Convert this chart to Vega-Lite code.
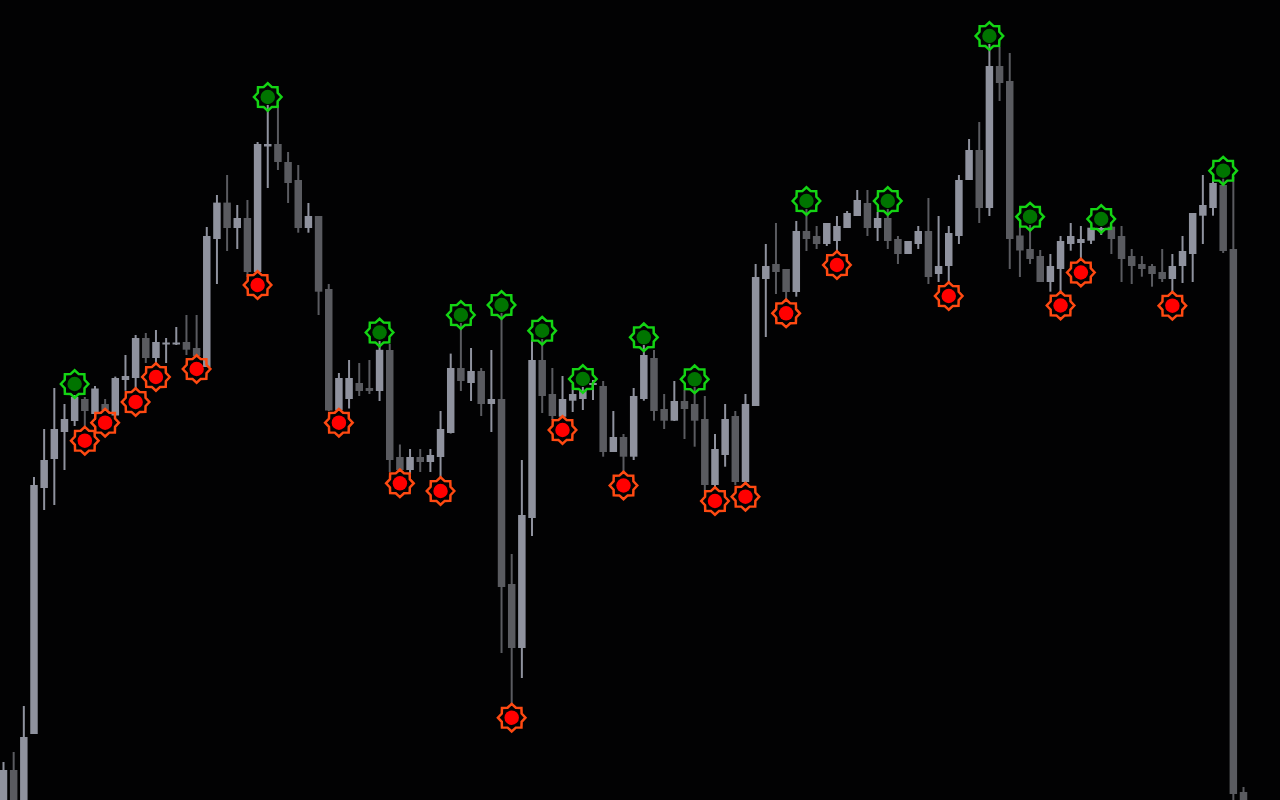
{
  "$schema": "https://vega.github.io/schema/vega-lite/v6.json",
  "autosize": {"type": "fit", "contains": "padding"},
  "width": 1280,
  "height": 800,
  "padding": 0,
  "background": "#020203",
  "config": {"view": {"stroke": null}},
  "datasets": {
    "candles": [
      {"i":0,"open":-15,"high":38,"low":-15,"close":30},
      {"i":1,"open":30,"high":48,"low":-15,"close":-15},
      {"i":2,"open":-15,"high":94,"low":-15,"close":63},
      {"i":3,"open":66,"high":323,"low":66,"close":315},
      {"i":4,"open":312,"high":371,"low":290,"close":340},
      {"i":5,"open":341,"high":412,"low":295,"close":371},
      {"i":6,"open":368,"high":396,"low":330,"close":381},
      {"i":7,"open":379,"high":405,"low":374,"close":403},
      {"i":8,"open":401,"high":403,"low":371,"close":389},
      {"i":9,"open":386,"high":414,"low":380,"close":411.5},
      {"i":10,"open":396,"high":401,"low":389,"close":390},
      {"i":11,"open":384.5,"high":423.4,"low":384.5,"close":422},
      {"i":12,"open":420,"high":445,"low":409.3,"close":424},
      {"i":13,"open":422,"high":465,"low":410,"close":462},
      {"i":14,"open":462,"high":467,"low":437,"close":442},
      {"i":15,"open":442,"high":470,"low":435,"close":458},
      {"i":16,"open":455.5,"high":462,"low":437,"close":457.5},
      {"i":17,"open":455.5,"high":473,"low":455,"close":457.5},
      {"i":18,"open":458,"high":485,"low":445,"close":450.3},
      {"i":19,"open":452,"high":485,"low":443,"close":444},
      {"i":20,"open":433,"high":573,"low":433,"close":564},
      {"i":21,"open":561,"high":605,"low":516,"close":597.4},
      {"i":22,"open":597.4,"high":625,"low":549,"close":572},
      {"i":23,"open":572,"high":595,"low":551,"close":582},
      {"i":24,"open":582,"high":600,"low":523,"close":528},
      {"i":25,"open":528,"high":658,"low":527,"close":656},
      {"i":26,"open":653.5,"high":695,"low":612,"close":656},
      {"i":27,"open":656,"high":695,"low":630,"close":638},
      {"i":28,"open":638,"high":648,"low":597,"close":617},
      {"i":29,"open":620,"high":635,"low":567.3,"close":572},
      {"i":30,"open":572,"high":597,"low":567.3,"close":584},
      {"i":31,"open":584,"high":584,"low":485,"close":508.3},
      {"i":32,"open":511,"high":516,"low":389,"close":389.5},
      {"i":33,"open":390,"high":427,"low":389,"close":422},
      {"i":34,"open":401,"high":440,"low":391.5,"close":422},
      {"i":35,"open":417,"high":437,"low":404,"close":409},
      {"i":36,"open":412,"high":440,"low":406,"close":409},
      {"i":37,"open":409,"high":459,"low":399,"close":450.2},
      {"i":38,"open":450,"high":456,"low":328,"close":340},
      {"i":39,"open":343,"high":355.5,"low":328,"close":330},
      {"i":40,"open":330,"high":351,"low":326,"close":343},
      {"i":41,"open":343,"high":351,"low":328,"close":338},
      {"i":42,"open":338,"high":351,"low":328,"close":345},
      {"i":43,"open":343,"high":389,"low":321,"close":371},
      {"i":44,"open":367,"high":446.4,"low":366.5,"close":432},
      {"i":45,"open":432,"high":477,"low":409,"close":419},
      {"i":46,"open":417,"high":452,"low":399,"close":429},
      {"i":47,"open":429,"high":432,"low":384,"close":396},
      {"i":48,"open":396,"high":450,"low":368,"close":401},
      {"i":49,"open":401,"high":487,"low":147,"close":213},
      {"i":50,"open":216,"high":246,"low":94,"close":152},
      {"i":51,"open":152,"high":340,"low":122,"close":285},
      {"i":52,"open":282,"high":460,"low":264,"close":440},
      {"i":53,"open":440,"high":461,"low":387,"close":404},
      {"i":54,"open":406,"high":432,"low":380,"close":384},
      {"i":55,"open":383.3,"high":424,"low":382,"close":401},
      {"i":56,"open":399.3,"high":416,"low":388,"close":406},
      {"i":57,"open":401,"high":413,"low":390,"close":410},
      {"i":58,"open":415,"high":420,"low":400,"close":417},
      {"i":59,"open":414,"high":419,"low":343.3,"close":348},
      {"i":60,"open":348,"high":389,"low":348,"close":363},
      {"i":61,"open":363,"high":366,"low":326,"close":343.3},
      {"i":62,"open":343.3,"high":412,"low":340,"close":404},
      {"i":63,"open":401,"high":455,"low":399.3,"close":445},
      {"i":64,"open":442,"high":450,"low":379.3,"close":389},
      {"i":65,"open":391,"high":406,"low":371,"close":379.3},
      {"i":66,"open":379.3,"high":419,"low":379,"close":399},
      {"i":67,"open":399,"high":410,"low":361,"close":391},
      {"i":68,"open":396,"high":413,"low":353.3,"close":379.3},
      {"i":69,"open":381,"high":404,"low":307.3,"close":315},
      {"i":70,"open":315,"high":366,"low":311,"close":351},
      {"i":71,"open":345,"high":396,"low":333.3,"close":381},
      {"i":72,"open":384,"high":389,"low":315,"close":318},
      {"i":73,"open":318,"high":406,"low":315,"close":396},
      {"i":74,"open":394,"high":536,"low":394,"close":523},
      {"i":75,"open":521,"high":556,"low":463,"close":534},
      {"i":76,"open":536,"high":577,"low":506,"close":528},
      {"i":77,"open":531,"high":531,"low":499,"close":508},
      {"i":78,"open":508,"high":579,"low":503.3,"close":569},
      {"i":79,"open":569,"high":591,"low":549,"close":561},
      {"i":80,"open":564,"high":574,"low":551,"close":556},
      {"i":81,"open":556,"high":577,"low":554,"close":577},
      {"i":82,"open":559,"high":584,"low":547,"close":574},
      {"i":83,"open":572,"high":589,"low":572,"close":587},
      {"i":84,"open":584,"high":610,"low":584,"close":600},
      {"i":85,"open":597,"high":610,"low":564,"close":572},
      {"i":86,"open":572,"high":588,"low":559,"close":582},
      {"i":87,"open":582,"high":591,"low":551,"close":559},
      {"i":88,"open":561,"high":564,"low":536,"close":546},
      {"i":89,"open":546,"high":559,"low":546,"close":559},
      {"i":90,"open":556,"high":574,"low":551,"close":569},
      {"i":91,"open":569,"high":602,"low":516,"close":523},
      {"i":92,"open":526,"high":584,"low":518,"close":534},
      {"i":93,"open":534,"high":574,"low":516,"close":567},
      {"i":94,"open":564,"high":625,"low":556,"close":620},
      {"i":95,"open":620,"high":661,"low":620,"close":650},
      {"i":96,"open":650,"high":678,"low":577,"close":592},
      {"i":97,"open":592,"high":756,"low":584,"close":734},
      {"i":98,"open":734,"high":753,"low":699,"close":717},
      {"i":99,"open":719,"high":747,"low":531,"close":561},
      {"i":100,"open":564.5,"high":576,"low":523,"close":549.5},
      {"i":101,"open":551,"high":575,"low":536,"close":541},
      {"i":102,"open":544,"high":550,"low":518,"close":518},
      {"i":103,"open":518,"high":546,"low":508.3,"close":534},
      {"i":104,"open":531,"high":564,"low":506.5,"close":559},
      {"i":105,"open":556,"high":577,"low":549.3,"close":564},
      {"i":106,"open":557,"high":574,"low":539.5,"close":561},
      {"i":107,"open":559.3,"high":572.3,"low":556,"close":572.3},
      {"i":108,"open":569,"high":573,"low":565,"close":572},
      {"i":109,"open":573.3,"high":574,"low":546,"close":561},
      {"i":110,"open":564,"high":574,"low":518,"close":541},
      {"i":111,"open":544,"high":551,"low":516,"close":534},
      {"i":112,"open":536,"high":544,"low":523.3,"close":531},
      {"i":113,"open":534,"high":536,"low":513.3,"close":526},
      {"i":114,"open":528,"high":551,"low":518,"close":521},
      {"i":115,"open":521,"high":546,"low":506.3,"close":534},
      {"i":116,"open":534,"high":564,"low":517,"close":549},
      {"i":117,"open":546,"high":587,"low":518,"close":587},
      {"i":118,"open":584.3,"high":625,"low":556,"close":595},
      {"i":119,"open":592,"high":625,"low":584.3,"close":617},
      {"i":120,"open":615,"high":621.3,"low":547,"close":549},
      {"i":121,"open":551,"high":623,"low":-5,"close":6},
      {"i":122,"open":8,"high":13,"low":-15,"close":-15}
    ],
    "signals": [
      {"i":7,"price":416,"type":"buy"},
      {"i":26,"price":703,"type":"buy"},
      {"i":37,"price":467.5,"type":"buy"},
      {"i":45,"price":485,"type":"buy"},
      {"i":49,"price":495,"type":"buy"},
      {"i":53,"price":469.3,"type":"buy"},
      {"i":57,"price":421,"type":"buy"},
      {"i":63,"price":462.7,"type":"buy"},
      {"i":68,"price":420.7,"type":"buy"},
      {"i":79,"price":599,"type":"buy"},
      {"i":87,"price":599,"type":"buy"},
      {"i":97,"price":764,"type":"buy"},
      {"i":101,"price":583.3,"type":"buy"},
      {"i":108,"price":581,"type":"buy"},
      {"i":120,"price":629.3,"type":"buy"},
      {"i":8,"price":359.3,"type":"sell"},
      {"i":10,"price":377.3,"type":"sell"},
      {"i":13,"price":398,"type":"sell"},
      {"i":15,"price":423,"type":"sell"},
      {"i":19,"price":431,"type":"sell"},
      {"i":25,"price":515,"type":"sell"},
      {"i":33,"price":377.3,"type":"sell"},
      {"i":39,"price":316.7,"type":"sell"},
      {"i":43,"price":309,"type":"sell"},
      {"i":50,"price":82.3,"type":"sell"},
      {"i":55,"price":370,"type":"sell"},
      {"i":61,"price":314.5,"type":"sell"},
      {"i":70,"price":299,"type":"sell"},
      {"i":73,"price":303.3,"type":"sell"},
      {"i":77,"price":486.7,"type":"sell"},
      {"i":82,"price":535,"type":"sell"},
      {"i":93,"price":504,"type":"sell"},
      {"i":104,"price":494.5,"type":"sell"},
      {"i":106,"price":527.5,"type":"sell"},
      {"i":115,"price":494.3,"type":"sell"}
    ]
  },
  "layer": [
    {
      "data": {"name": "candles"},
      "mark": {"type": "rule", "strokeWidth": 2, "clip": true},
      "encoding": {
        "x": {"field": "i", "type": "quantitative", "scale": {"domain": [-0.344, 125.59], "nice": false, "zero": false, "padding": 0}, "axis": null},
        "y": {"field": "low", "type": "quantitative", "scale": {"domain": [0, 800], "nice": false, "zero": false, "padding": 0}, "axis": null},
        "y2": {"field": "high"},
        "color": {"condition": {"test": "datum.close >= datum.open", "value": "#8f929e"}, "value": "#5a5b60"}
      }
    },
    {
      "data": {"name": "candles"},
      "mark": {"type": "bar", "width": 7.5, "clip": true},
      "encoding": {
        "x": {"field": "i", "type": "quantitative"},
        "y": {"field": "open", "type": "quantitative"},
        "y2": {"field": "close"},
        "color": {"condition": {"test": "datum.close >= datum.open", "value": "#8f929e"}, "value": "#5a5b60"}
      }
    },
    {
      "data": {"name": "signals"},
      "mark": {"type": "point", "shape": "M1,0L0.72,0.3L0.707,0.707L0.3,0.72L0,1L-0.3,0.72L-0.707,0.707L-0.72,0.3L-1,0L-0.72,-0.3L-0.707,-0.707L-0.3,-0.72L0,-1L0.3,-0.72L0.707,-0.707L0.72,-0.3Z", "filled": false, "size": 760, "strokeWidth": 2.5, "opacity": 1},
      "encoding": {
        "x": {"field": "i", "type": "quantitative"},
        "y": {"field": "price", "type": "quantitative"},
        "stroke": {"field": "type", "type": "nominal", "scale": {"domain": ["buy", "sell"], "range": ["#14d414", "#ff4a12"]}, "legend": null}
      }
    },
    {
      "data": {"name": "signals"},
      "mark": {"type": "point", "shape": "circle", "filled": true, "size": 210, "opacity": 1},
      "encoding": {
        "x": {"field": "i", "type": "quantitative"},
        "y": {"field": "price", "type": "quantitative"},
        "fill": {"field": "type", "type": "nominal", "scale": {"domain": ["buy", "sell"], "range": ["#007400", "#ff0000"]}, "legend": null}
      }
    }
  ]
}
